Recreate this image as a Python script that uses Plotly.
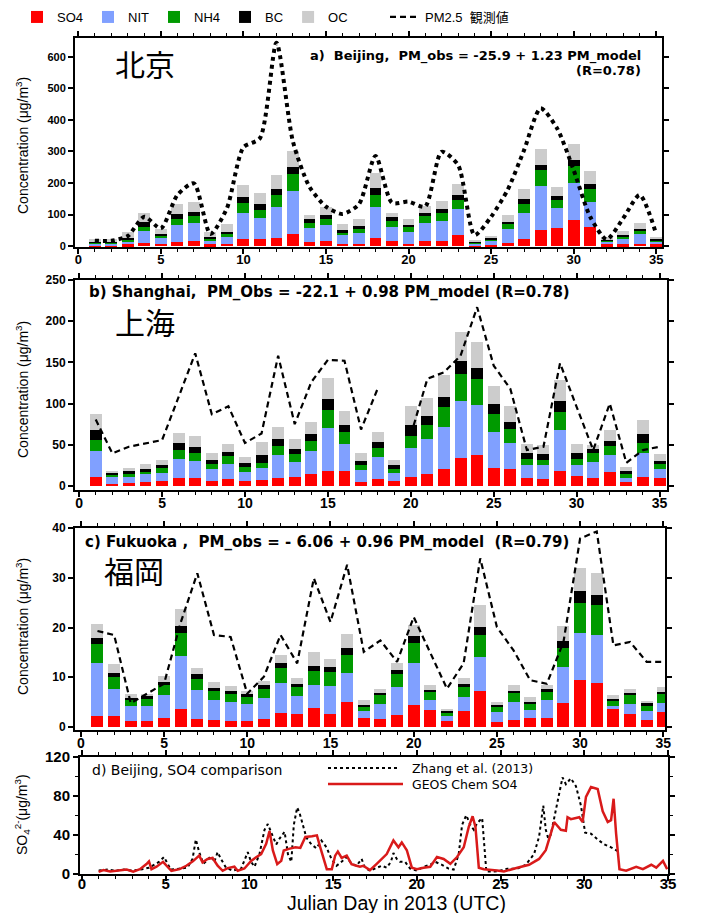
import plotly.graph_objects as go

W, H = 707, 913

days = list(range(1, 36))

# ---- a) Beijing ----
bj_so4 = [3,3,5,11,8,13,15,5,7,21,21,25,39,14,17,8,8,27,16,8,15,17,35,3,3,11,21,51,56,82,61,5,6,8,5]
bj_nit = [6,6,9,38,16,53,57,12,22,85,67,98,137,42,50,27,32,98,45,37,57,63,81,5.5,14,42,83,141,64,117,80,8,19,29,8]
bj_nh4 = [3,3,5,12,8,19,23,5,8,32,26,38,52,18,18,8,14,37,19,14,23,26,30,3,4,16,31,48,26,55,39,4,6,11,4]
bj_bc = [3,3,8,16,6,17,14,8,9,19,18,20,24,11,14,8,9,21,11,8,11,11,16,4,3,8,13,17,14,19,17,5,4,6,4]
bj_oc = [6,6,18,29,16,33,32,14,23,37,35,44,51,12,24,18,22,48,15,18,22,27,35,3.5,8,23,33,50,26,50,42,5.5,12,18,8]
bj_pm = [17,17,32,93,56,162,199,38,120,313,342,645,331,188,125,102,133,286,137,141,125,299,257,35,93,178,305,437,373,241,93,21,88,162,38]

# ---- b) Shanghai ----
sh_so4 = [11,2,3,5,6,9,10,6,8,6,7,10,10.5,14,18.5,18.5,5,8,6,11,14.5,21,34,38,22,20,9,8,18.5,12,10,17,4.5,11,9]
sh_nit = [31,8.5,8,9,10,24,20,15,19,11,15,27,19,28,52,32,14.5,27,10,35,43,51,69,60,44,31.5,16.5,17,49,13,19,20,5,29,11.5]
sh_nh4 = [14,3.5,4,3,6,10.5,10,5,9,6,6,12,9,13,22,15,6,11,5,14.5,17,24,33,32,21,17,7,7,22,8,11,11,5,12.5,6]
sh_bc = [12,2,3,3,3,8,7,5,5,5,9,8,6,8,13,8,5,7,4,13,10,12,16,13,12,8.5,8,6.5,14,7,4.5,7,3,10,4]
sh_oc = [19,2.5,4,6,7,13,13,9,10,7,16,14,12,15,25,18,10,12,7,23,22,27,35,32,22,20,10,11,25,11,5,13,5,18,8]
sh_pm = [80.6,39.5,47.5,51.6,55.6,108,161,87,96.7,52,63.7,158,75,126,153,152,68.5,118,None,61.7,
         130,138,158,217,146,118,43.5,47.5,149,96,43.5,100,28,43.5,47.5]

# ---- c) Fukuoka ----
fk_so4 = [2.2,2.3,1.3,1.3,1.8,3.7,1.7,1.5,1.3,1.3,1.6,2.9,2.7,3.8,2.6,5.0,1.9,1.7,2.35,4.4,3.4,1.3,3.2,7.2,1.1,1.5,1.8,1.8,4.8,9.4,8.9,3.7,2.55,1.5,3.0]
fk_nit = [10.6,5.3,2.9,3.0,4.6,10.6,5.7,3.9,3.7,3.3,4.2,6.0,3.5,4.7,5.7,5.9,1.3,3.0,5.7,8.4,2.1,1.0,2.8,6.8,2.0,3.6,1.7,3.6,7.2,9.4,9.6,0.5,2.1,1.7,1.8]
fk_nh4 = [3.8,2.5,1.3,1.4,2.0,4.5,2.3,1.8,1.7,1.6,1.9,3.0,1.9,2.7,2.7,3.5,1.0,1.7,2.7,4.1,1.5,0.7,2.0,4.5,1.1,1.8,1.3,1.7,3.8,6.2,6.0,1.2,1.7,1.1,1.8]
fk_bc = [1.3,0.8,0.35,0.5,0.7,1.5,0.9,0.6,0.5,0.4,0.7,0.9,0.5,1.1,1.0,1.4,0.3,0.5,0.7,1.4,0.5,0.35,0.7,1.7,0.3,0.4,0.3,0.5,1.5,2.3,2.0,0.3,0.5,0.5,0.5]
fk_oc = [2.9,1.7,0.85,0.5,1.1,3.4,1.3,1.3,1.0,0.6,0.8,1.6,1.3,2.7,1.7,2.9,0.9,0.8,1.5,2.2,0.9,0.35,1.1,4.3,0.5,1.1,0.9,0.8,3.0,4.6,4.4,0.8,0.8,0.5,1.0]
fk_pm = [19.3,18.5,4.8,6.7,8.7,21,30.9,18.5,18.1,6.7,10.1,18.5,12.8,29.9,21.1,32.6,15.1,17.4,13.1,22.1,
         14.8,7.7,12.8,33.9,20.1,15.4,9.4,8.7,17.1,37.9,39.3,16.4,17.1,13.1,13.1]

# ---- d) Beijing SO4 comparison ----
zh_day = [1.0,1.5,2.0,2.5,3.0,3.5,4.0,4.3,4.6,4.9,5.1,5.3,5.8,6.3,6.6,6.8,7.0,7.25,7.5,7.7,7.9,8.1,8.3,8.6,9.0,9.5,9.9,
          10.1,10.3,10.6,10.9,11.1,11.4,11.6,11.8,12.1,12.3,12.5,12.65,12.85,13.0,13.2,13.4,13.7,14.0,14.3,14.6,14.9,
          15.2,15.5,15.8,16.1,16.4,16.7,16.9,17.2,17.5,17.9,18.2,18.45,18.6,18.8,19.0,19.3,19.6,20.0,20.4,20.8,21.1,
          21.5,21.9,22.2,22.5,22.7,22.95,23.2,23.4,23.6,23.9,24.05,24.15,24.6,25.0,25.4,26.0,26.5,27.0,27.3,27.45,
          27.55,27.7,27.85,28.0,28.2,28.45,28.7,28.9,29.2,29.5,29.8,30.05,30.4,30.8,31.2,31.6,32.0]
zh_val = [3,4,3,4,3,4,6,9,12,17,10,4,5,6,15,35,22,10,14,18,12,22,15,6,3,5,22,
          12,7,20,45,51,38,30,36,43,20,12,50,68,62,48,37,30,26,34,27,15,
          8,12,17,10,8,15,6,3,5,8,6,12,21,15,12,12,5,3,7,9,12,
          9,5,4,20,50,60,50,45,52,57,20,2,2,3,5,5,9,20,38,58,
          70,45,36,40,58,80,99,92,98,90,70,42,41,35,30,27,23]
gc_day = [0.99,1.28,1.68,2.17,2.67,3.06,3.46,3.85,4.0,4.15,4.45,4.84,5.14,5.34,5.83,6.23,6.62,7.0,7.2,7.5,7.8,
          8.1,8.4,8.7,9.1,9.3,9.7,10.1,10.4,10.7,11.0,11.2,11.4,11.66,11.9,12.05,12.35,12.75,13.04,13.34,13.74,
          14.03,14.23,14.43,14.62,14.92,15.12,15.28,15.51,15.81,16.1,16.4,16.6,16.8,17.2,17.6,18.2,18.6,18.9,
          19.1,19.4,19.7,20.0,20.4,20.8,21.2,21.6,22.0,22.4,22.8,23.1,23.33,23.5,23.7,24.0,24.8,25.2,26.0,26.7,
          27.3,27.7,28.0,28.2,28.6,28.9,29.0,29.2,29.7,29.9,30.1,30.4,30.8,31.1,31.4,31.6,31.75,31.9,32.1,32.5,
          33.1,33.5,34.0,34.3,34.7,34.95]
gc_val = [1.7,3.5,2,2.8,4.2,2,4.5,9.7,12.5,4.5,7,12,6,2.8,4.5,8,12.5,18.4,11.5,15,16,
          8,2.8,5.6,7,2.8,5.2,13,16.7,20,30.6,43.8,23.7,9.7,13,23.7,25.4,27,26.4,37.6,38.3,
          39.3,27,15,4.5,4.5,18.4,22.6,16,18.4,9.7,8,7,8,3.5,10,20,34,27,
          32,24,6,4.5,6,7,17,15,10,17,27,48,59,48,6,4.5,3,2,6,9,
          15,24,41,53,45,44,58,56,58,53,79,89,87,64,53,55,77,41,4.5,3,
          7,4.5,9,6,13,4.5]

comp_names = ["SO4", "NIT", "NH4", "BC", "OC"]
comp_colors = ["#FF0000", "#80A0FF", "#009A00", "#000000", "#CCCCCC"]


def px_x(p):
    return p / W


def px_y(p):
    return 1 - p / H


fig = go.Figure()

panels = [
    ("x", "y", [bj_so4, bj_nit, bj_nh4, bj_bc, bj_oc], bj_pm),
    ("x2", "y2", [sh_so4, sh_nit, sh_nh4, sh_bc, sh_oc], sh_pm),
    ("x3", "y3", [fk_so4, fk_nit, fk_nh4, fk_bc, fk_oc], fk_pm),
]

for i, (xa, ya, comps, pm) in enumerate(panels):
    for name, col, vals in zip(comp_names, comp_colors, comps):
        fig.add_trace(go.Bar(
            x=days, y=vals, name=name, xaxis=xa, yaxis=ya,
            marker=dict(color=col, line=dict(width=0)), width=0.72,
            legendgroup=name, showlegend=(i == 0),
        ))
    if i == 0:
        line = dict(color="black", width=4, dash="dot", shape="spline", smoothing=0.7)
    else:
        line = dict(color="black", width=2.2, dash="6px,4px")
    fig.add_trace(go.Scatter(
        x=days, y=pm, mode="lines", name="PM2.5  観測値", xaxis=xa, yaxis=ya,
        line=line, connectgaps=False, showlegend=(i == 1), legend="legend2",
    ))

fig.add_trace(go.Scatter(x=zh_day, y=zh_val, mode="lines", name="Zhang et al. (2013)",
                         xaxis="x4", yaxis="y4", line=dict(color="black", width=2, dash="dot"),
                         showlegend=False))
fig.add_trace(go.Scatter(x=gc_day, y=gc_val, mode="lines", name="GEOS Chem SO4",
                         xaxis="x4", yaxis="y4", line=dict(color="#D91A1A", width=2.5),
                         showlegend=False))

bold = "bold"


def xax(dom, rng, anchor, fs, standoff):
    return dict(domain=[px_x(dom[0]), px_x(dom[1])], range=rng, anchor=anchor,
                tick0=0, dtick=5, ticks="outside", ticklen=5, tickwidth=1.5, tickcolor="black",
                minor=dict(dtick=1, ticks="outside", ticklen=3, tickwidth=1, tickcolor="black"),
                showline=True, linewidth=2, linecolor="black", mirror="ticks",
                showgrid=False, zeroline=False, automargin=False, ticklabelstandoff=standoff,
                tickfont=dict(family="Liberation Sans", size=fs, color="black", weight=bold))


def yax(dom, rng, anchor, dt, fs, minor=None):
    d = dict(domain=[px_y(dom[1]), px_y(dom[0])], range=rng, anchor=anchor,
             tick0=0, dtick=dt, ticks="outside", ticklen=5, tickwidth=1.5, tickcolor="black",
             showline=True, linewidth=2, linecolor="black", mirror="ticks",
             showgrid=False, zeroline=False, automargin=False,
             tickfont=dict(family="Liberation Sans", size=fs, color="black", weight=bold))
    if minor:
        d["minor"] = dict(dtick=minor, ticks="outside", ticklen=3, tickwidth=1, tickcolor="black")
    return d


fig.update_layout(
    width=W, height=H, margin=dict(l=0, r=0, t=0, b=0),
    paper_bgcolor="white", plot_bgcolor="white", barmode="stack", bargap=0.2,
    template="none",
    xaxis=xax((75, 662), [-0.2, 35.35], "y", 13, -6),
    yaxis=yax((38, 247), [-3, 660], "x", 100, 11),
    xaxis2=xax((75, 667), [-0.25, 35.45], "y2", 14, -6),
    yaxis2=yax((280, 490), [-5, 250], "x2", 50, 12),
    xaxis3=xax((75, 665), [-0.35, 35.1], "y3", 14, -6),
    yaxis3=yax((528, 730), [-0.6, 40], "x3", 10, 12),
    xaxis4=xax((80, 668), [-0.12, 35], "y4", 15, -10),
    yaxis4=yax((757, 874), [-0.5, 120], "x4", 40, 15, minor=20),
    legend=dict(orientation="h", x=px_x(17), y=px_y(17), xanchor="left", yanchor="middle",
                traceorder="normal", font=dict(family="Liberation Sans", size=13, color="black"),
                bgcolor="rgba(0,0,0,0)", itemwidth=30),
    legend2=dict(orientation="h", x=px_x(385), y=px_y(17), xanchor="left", yanchor="middle",
                 font=dict(family="Liberation Sans, Noto Sans CJK JP", size=13, color="black"),
                 bgcolor="rgba(0,0,0,0)", itemwidth=30),
)

ann = []
title_font = "Liberation Sans"
for yc in [146, 390, 627]:
    ann.append(dict(text="Concentration (μg/m<sup>3</sup>)", x=px_x(22), y=px_y(yc), xref="paper", yref="paper",
                    textangle=-90, showarrow=False, xanchor="center", yanchor="middle",
                    font=dict(family=title_font, size=14, color="black")))
ann.append(dict(text="SO<sub>4</sub><sup>2-</sup>(μg/m<sup>3</sup>)", x=px_x(22), y=px_y(815), xref="paper", yref="paper",
                textangle=-90, showarrow=False, xanchor="center", yanchor="middle",
                font=dict(family=title_font, size=14, color="black")))
ann.append(dict(text="Julian Day in 2013 (UTC)", x=px_x(397), y=px_y(903), xref="paper", yref="paper",
                showarrow=False, xanchor="center", yanchor="middle",
                font=dict(family="Liberation Sans", size=19.5, color="black")))

cjk = "Noto Sans CJK JP"
for txt, xc, yc in [("北京", 145, 63), ("上海", 145, 321), ("福岡", 134, 570)]:
    ann.append(dict(text=txt, x=px_x(xc), y=px_y(yc), xref="paper", yref="paper", showarrow=False,
                    xanchor="center", yanchor="middle", font=dict(family=cjk, size=30, color="black")))

pf = "DejaVu Sans"
ann.append(dict(text="a)  Beijing,  PM_obs = -25.9 + 1.23 PM_model", x=px_x(643), y=px_y(56), xref="paper", yref="paper",
                showarrow=False, xanchor="right", yanchor="middle",
                font=dict(family=pf, size=13, color="black", weight=bold)))
ann.append(dict(text="(R=0.78)", x=px_x(643), y=px_y(71), xref="paper", yref="paper",
                showarrow=False, xanchor="right", yanchor="middle",
                font=dict(family=pf, size=13, color="black", weight=bold)))
ann.append(dict(text="b) Shanghai,  PM_Obs = -22.1 + 0.98 PM_model (R=0.78)", x=px_x(87), y=px_y(292),
                xref="paper", yref="paper", showarrow=False, xanchor="left", yanchor="middle",
                font=dict(family=pf, size=15, color="black", weight=bold)))
ann.append(dict(text="c) Fukuoka ,  PM_obs = - 6.06 + 0.96 PM_model  (R=0.79)", x=px_x(83), y=px_y(542),
                xref="paper", yref="paper", showarrow=False, xanchor="left", yanchor="middle",
                font=dict(family=pf, size=15, color="black", weight=bold)))
ann.append(dict(text="d) Beijing, SO4 comparison", x=px_x(90), y=px_y(770), xref="paper", yref="paper",
                showarrow=False, xanchor="left", yanchor="middle", font=dict(family=pf, size=14, color="black")))
ann.append(dict(text="Zhang et al. (2013)", x=px_x(410), y=px_y(768), xref="paper", yref="paper",
                showarrow=False, xanchor="left", yanchor="middle", font=dict(family=pf, size=12.5, color="black")))
ann.append(dict(text="GEOS Chem SO4", x=px_x(410), y=px_y(784), xref="paper", yref="paper",
                showarrow=False, xanchor="left", yanchor="middle", font=dict(family=pf, size=12.5, color="black")))

shapes = [
    dict(type="line", xref="paper", yref="paper", x0=px_x(328), x1=px_x(400), y0=px_y(768), y1=px_y(768),
         line=dict(color="black", width=2, dash="dot")),
    dict(type="line", xref="paper", yref="paper", x0=px_x(328), x1=px_x(403), y0=px_y(784), y1=px_y(784),
         line=dict(color="#D91A1A", width=2.5)),
]

fig.update_layout(annotations=ann, shapes=shapes)
fig.write_html("out.html", config={"displayModeBar": False},
               post_script="document.body.style.margin='0px';document.body.style.padding='0px';")
